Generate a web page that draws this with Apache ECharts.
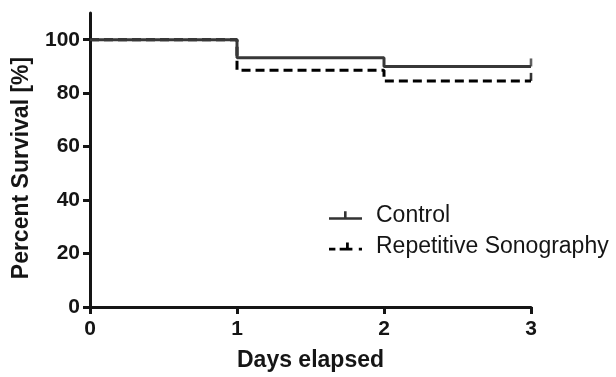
<!DOCTYPE html>
<html>
<head>
<meta charset="utf-8">
<script src="https://cdn.jsdelivr.net/npm/echarts@6/dist/echarts.min.js"></script>
<style>
  html, body { margin: 0; padding: 0; background: #fff; }
  #chart { width: 616px; height: 377px; }
</style>
</head>
<body>
<div id="chart"></div>
<script>
// survival steps (day, percent)
const controlSteps = [[0, 100], [1, 93.3], [2, 90], [3, 90]];
const sonoSteps = [[0, 100], [1, 88.6], [2, 84.6], [3, 84.6]];
// censored points at end of follow-up
const controlCensor = [[3, 90]];
const sonoCensor = [[3, 84.6]];
const yTicks = [0, 20, 40, 60, 80, 100];
const seriesNames = ["Control", "Repetitive Sonography"];

const chart = echarts.init(document.getElementById("chart"));
const axisColor = "#151515";
const fontFam = "Liberation Sans, Arial";
const tickFont = { color: "#151515", fontSize: 21, fontWeight: "bold", fontFamily: fontFam };

chart.setOption({
  animation: false,
  grid: { left: 90, right: 85, top: 13, bottom: 69 },
  legend: {
    left: 324,
    top: 199,
    orient: "vertical",
    itemGap: 8,
    itemWidth: 33,
    itemHeight: 10,
    textStyle: { fontSize: 23, color: "#151515", fontFamily: fontFam, padding: [0, 0, 0, 9] },
    data: [
      { name: seriesNames[0], icon: "path://M0,6h33v2.6h-33z M15,0h2.6v6h-2.6z", itemStyle: { color: "#333" } },
      { name: seriesNames[1], icon: "path://M0,6h6v2.6h-6z M10,6h6v2.6h-6z M16,1h2.6v5h-2.6z M16,6h6v2.6h-6z M28,6h3v2.6h-3z", itemStyle: { color: "#000" } },
    ],
  },
  xAxis: {
    type: "value",
    min: 0,
    max: 3,
    interval: 1,
    name: "Days elapsed",
    nameLocation: "middle",
    nameGap: 42,
    nameTextStyle: { fontSize: 23, fontWeight: "bold", color: "#151515", fontFamily: fontFam },
    axisLine: { lineStyle: { color: axisColor, width: 3 } },
    axisTick: { show: true, length: 7, lineStyle: { color: axisColor, width: 3 } },
    axisLabel: Object.assign({ margin: 12 }, tickFont),
    splitLine: { show: false },
  },
  yAxis: {
    type: "value",
    min: 0,
    max: 110,
    name: "Percent Survival [%]",
    nameLocation: "middle",
    nameGap: 57,
    nameTextStyle: { fontSize: 23, fontWeight: "bold", color: "#151515", fontFamily: fontFam, padding: [0, 16, 0, 0] },
    axisLine: { show: true, lineStyle: { color: axisColor, width: 3 } },
    axisTick: { show: true, length: 7, customValues: yTicks, lineStyle: { color: axisColor, width: 3 } },
    axisLabel: Object.assign({ margin: 10, customValues: yTicks }, tickFont),
    splitLine: { show: false },
  },
  series: [
    {
      name: seriesNames[0],
      type: "line",
      step: "end",
      showSymbol: false,
      lineStyle: { color: "#383838", width: 3 },
      itemStyle: { color: "#383838" },
      data: controlSteps,
      z: 3,
    },
    {
      name: seriesNames[1],
      type: "line",
      step: "end",
      showSymbol: false,
      lineStyle: { color: "#000", width: 3, type: [9, 5] },
      itemStyle: { color: "#000" },
      data: sonoSteps,
      z: 2,
    },
    {
      name: seriesNames[0],
      type: "scatter",
      symbol: "rect",
      symbolSize: [2.6, 8],
      symbolOffset: [0, -4],
      itemStyle: { color: "#383838" },
      data: controlCensor,
    },
    {
      name: seriesNames[1],
      type: "scatter",
      symbol: "rect",
      symbolSize: [2.6, 8],
      symbolOffset: [0, -4],
      itemStyle: { color: "#000" },
      data: sonoCensor,
    },
  ],
});
</script>
</body>
</html>
